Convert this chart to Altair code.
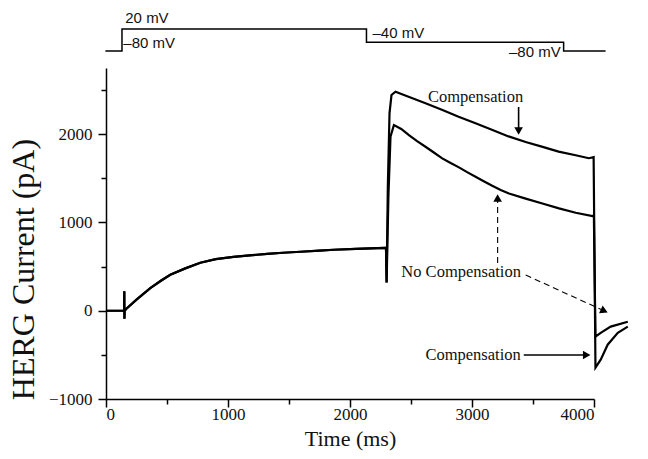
import altair as alt
import pandas as pd

# ---------------- data ----------------
# shared activation phase (both recordings overlap), time in ms, current in pA
phase1_t = [0, 145, 148, 150, 151, 153, 165, 250, 363, 450, 527, 650, 773, 900,
            1045, 1200, 1322, 1450, 1594, 1750, 1866, 2050, 2290]
phase1_v = [0, 0, 0, 220, -90, 0, 20, 125, 257, 340, 408, 480, 543, 585,
            611, 630, 645, 657, 668, 680, 691, 700, 713]

comp_t = [2295, 2300, 2310, 2324, 2340, 2373, 2480, 2619, 2758, 2890, 3029, 3168,
          3300, 3440, 3579, 3710, 3850, 3958, 3997, 4012, 4055, 4112, 4195, 4277]
comp_v = [713, 320, 1400, 2240, 2444, 2481, 2424, 2350, 2274, 2198, 2123, 2047,
          1975, 1912, 1856, 1803, 1762, 1728, 1740, -645, -555, -385, -250, -180]

nocomp_t = [2295, 2300, 2315, 2332, 2360, 2420, 2483, 2550, 2619, 2690, 2756, 2825,
            2893, 2960, 3029, 3100, 3166, 3235, 3303, 3440, 3577, 3713, 3850, 3987,
            3999, 4012, 4055, 4137, 4277]
nocomp_v = [713, 320, 1300, 1971, 2104, 2060, 1990, 1922, 1858, 1790, 1726, 1673,
            1624, 1570, 1518, 1465, 1415, 1368, 1328, 1270, 1215, 1160, 1110, 1073,
            1080, -294, -250, -180, -125]

# voltage protocol (mV)
proto_t = [-5, 131, 131, 2135, 2135, 3751, 3751, 4095]
proto_mv = [-80, -80, 20, 20, -40, -40, -80, -80]
proto_label_text = ["20 mV", "\u201380 mV", "\u201340 mV", "\u201380 mV"]
proto_label_t = [158, 142, 2184, 3727]
proto_label_mv = [70, -43.6, 1.8, -84.5]
proto_label_align = ["left", "left", "left", "right"]

# annotations
ann_text = ["Compensation", "No Compensation", "Compensation"]
ann_t = [3029, 2911, 3009]
ann_v = [2421, 438, -502]

# arrows
arr_t1 = [3382, 3210, 3440, 3424]
arr_v1 = [2308, 540, 404, -502]
arr_t2 = [3382, 3210, 4084, 3940]
arr_v2 = [2036, 1277, -2, -502]
arr_shape = ["triangle-down", "triangle-up", "triangle-right", "triangle-right"]
arr_angle = [0, 0, 24.6, 0]
arr_dash = ["solid", "dashed", "dashed", "solid"]

x_ticks = list(range(0, 4001, 500))
y_ticks = list(range(-1000, 2501, 500))

# ---------------- tables ----------------
rows = []
for name, t2, v2 in [("comp", comp_t, comp_v), ("nocomp", nocomp_t, nocomp_v)]:
    ts = phase1_t + t2
    vs = phase1_v + v2
    for i, (t, v) in enumerate(zip(ts, vs)):
        rows.append({"series": name, "i": i, "t": t, "v": v})
traces = pd.DataFrame(rows)

proto = pd.DataFrame({"i": range(len(proto_t)), "t": proto_t, "mv": proto_mv})
proto_lab = pd.DataFrame({"label": proto_label_text, "t": proto_label_t,
                          "mv": proto_label_mv, "align": proto_label_align})
ann = pd.DataFrame({"label": ann_text, "t": ann_t, "v": ann_v})
arrows = pd.DataFrame({"t": arr_t1, "v": arr_v1, "t2": arr_t2, "v2": arr_v2,
                       "shape": arr_shape, "angle": arr_angle, "dash": arr_dash})

# ---------------- encodings ----------------
xscale = alt.Scale(domain=[0, 4000], nice=False, zero=False)
yscale = alt.Scale(domain=[-1000, 2750], nice=False, zero=False)

major_test = "datum.value % 1000 === 0"
xaxis = alt.Axis(
    title="Time (ms)", values=x_ticks, grid=False,
    labelExpr="datum.value % 1000 === 0 ? format(datum.value, 'd') : ''",
    tickSize={"condition": {"test": major_test, "value": 8}, "value": 5},
    labelPadding=-1, titleFontSize=22, labelFontSize=17,
    titleY=39, titleBaseline="middle",
)
yaxis = alt.Axis(
    title="HERG Current (pA)", values=y_ticks, grid=False,
    labelExpr="datum.value % 1000 === 0 ? format(datum.value, 'd') : ''",
    tickSize={"condition": {"test": major_test, "value": 8}, "value": 5},
    labelPadding=6, titleFontSize=32, labelFontSize=17,
    titleX=-83, titleY=201, titleBaseline="middle",
)

X = alt.X("t:Q", scale=xscale, axis=xaxis)
Y = alt.Y("v:Q", scale=yscale, axis=yaxis)

lines = alt.Chart(traces).mark_line(color="black", strokeWidth=2.2).encode(
    x=X, y=Y, detail="series:N", order="i:Q"
)

ann_text_layer = alt.Chart(ann).mark_text(
    font="Liberation Serif", fontSize=16.5, color="#111", align="center", baseline="middle"
).encode(x=X, y=Y, text="label:N")

arrow_solid = alt.Chart(arrows).transform_filter("datum.dash === 'solid'").mark_rule(
    color="black", strokeWidth=1.6
).encode(x=X, y=Y, x2="t2:Q", y2="v2:Q")

arrow_dashed = alt.Chart(arrows).transform_filter("datum.dash === 'dashed'").mark_rule(
    color="black", strokeWidth=1.1, strokeDash=[6, 4]
).encode(x=X, y=Y, x2="t2:Q", y2="v2:Q")

heads = alt.Chart(arrows).mark_point(
    filled=True, color="black", size=75, opacity=1
).encode(
    x=alt.X("t2:Q", scale=xscale, axis=xaxis),
    y=alt.Y("v2:Q", scale=yscale, axis=yaxis),
    shape=alt.Shape("shape:N", scale=None, legend=None),
    angle=alt.Angle("angle:Q", scale=None),
)

main = alt.layer(lines, ann_text_layer, arrow_solid, arrow_dashed, heads)

pscale = alt.Scale(domain=[-80, 20], range=[-17, -39], nice=False, zero=False)
PX = alt.X("t:Q", scale=xscale, axis=xaxis)
PY = alt.Y("mv:Q", scale=pscale, axis=None)
proto_line = alt.Chart(proto).mark_line(color="black", strokeWidth=1.5).encode(
    x=PX, y=PY, order="i:Q",
)
proto_text_left = alt.Chart(proto_lab).transform_filter("datum.align === 'left'").mark_text(
    font="Liberation Sans", fontSize=15, color="#111", baseline="middle", align="left"
).encode(x=PX, y=PY, text="label:N")
proto_text_right = alt.Chart(proto_lab).transform_filter("datum.align === 'right'").mark_text(
    font="Liberation Sans", fontSize=15, color="#111", baseline="middle", align="right"
).encode(x=PX, y=PY, text="label:N")
protocol = alt.layer(proto_line, proto_text_left, proto_text_right)

chart = alt.layer(main, protocol).resolve_scale(y="independent").properties(
    width=488, height=331,
    autosize=alt.AutoSizeParams(type="none"),
    padding={"left": 106, "top": 68, "right": 54, "bottom": 60},
    background="white",
).configure_view(stroke=None).configure_axis(
    domainColor="black", domainWidth=1.5, tickColor="black", tickWidth=1.5,
    labelFont="Liberation Serif", labelColor="#111",
    titleFont="Liberation Serif", titleFontWeight="normal", titleColor="#111",
)

chart.save("out.html", embed_options={"renderer": "svg", "actions": False})
